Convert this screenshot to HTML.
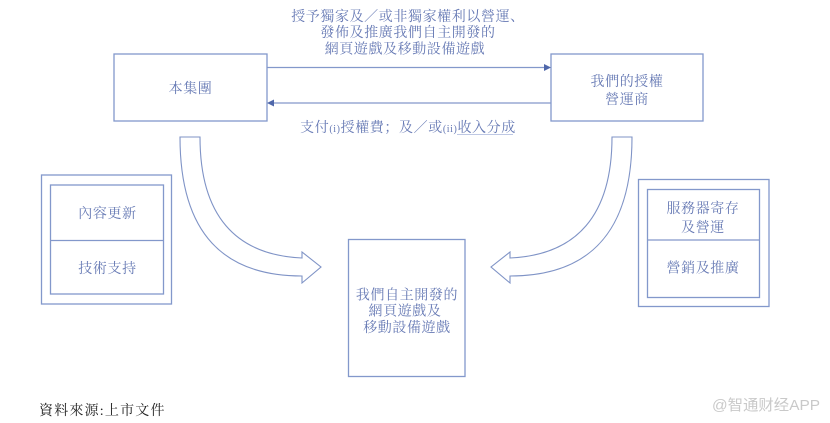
<!DOCTYPE html>
<html>
<head>
<meta charset="utf-8">
<style>
  html,body{margin:0;padding:0;background:#fff;}
  body{width:830px;height:423px;overflow:hidden;}
  svg{display:block;}
  .t{font-family:"Liberation Serif","Noto Serif CJK SC","Noto Serif CJK TC",serif;font-size:14px;fill:#6679b4;letter-spacing:0.6px;}
  .src{font-family:"Liberation Serif","Noto Serif CJK SC",serif;font-size:14px;fill:#222;letter-spacing:1.2px;}
  .wm{font-family:"Liberation Sans","Noto Sans CJK SC",sans-serif;font-size:15px;fill:#c9c9c9;}
</style>
</head>
<body>
<svg width="830" height="423" viewBox="0 0 830 423" xmlns="http://www.w3.org/2000/svg">
  <g fill="none" stroke="#8398cb" stroke-width="1.3">
    <rect x="114" y="54" width="153" height="67"/>
    <rect x="551" y="54" width="152" height="67"/>
    <rect x="348.5" y="239.5" width="116.5" height="137"/>
    <rect x="41.5" y="175" width="130" height="129"/>
    <rect x="50.5" y="185" width="113" height="109"/>
    <line x1="50.5" y1="240.5" x2="163.5" y2="240.5"/>
    <rect x="638.5" y="179.5" width="130.5" height="127"/>
    <rect x="647.5" y="189.5" width="112" height="108"/>
    <line x1="647.5" y1="240" x2="759.5" y2="240"/>
    <line x1="267" y1="67.5" x2="546" y2="67.5"/>
    <line x1="272" y1="103" x2="551" y2="103"/>
  </g>
  <polygon points="551,67.5 544,64 544,71" fill="#4f67aa"/>
  <polygon points="267,103 274,99.5 274,106.5" fill="#4f67aa"/>

  <g fill="#fff" stroke="#7f93c6" stroke-width="1.1" stroke-linejoin="miter">
    <path d="M180,137 L200,137 C200,215 235,255 302,258 L302,252 L321,267 L302,283 L302,276 C225,276 180,235 180,137 Z"/>
    <path d="M632,137 L612,137 C612,215 577,255 510,258 L510,252 L491,267 L510,283 L510,276 C587,276 632,235 632,137 Z"/>
  </g>

  <text class="t" x="408" y="21" text-anchor="middle">授予獨家及／或非獨家權利以營運、</text>
  <text class="t" x="408" y="37" text-anchor="middle">發佈及推廣我們自主開發的</text>
  <text class="t" x="405" y="53.5" text-anchor="middle">網頁遊戲及移動設備遊戲</text>

  <text class="t" x="408" y="132" text-anchor="middle">支付<tspan font-size="10">(i)</tspan>授權費；及／或<tspan font-size="10">(ii)</tspan>收入分成</text>
  <line x1="457" y1="134.5" x2="513" y2="134.5" stroke="#a9b6db" stroke-width="0.8"/>

  <text class="t" x="190.5" y="93" text-anchor="middle">本集團</text>
  <text class="t" x="627" y="86" text-anchor="middle">我們的授權</text>
  <text class="t" x="627" y="104" text-anchor="middle">營運商</text>

  <text class="t" x="407" y="299.5" text-anchor="middle">我們自主開發的</text>
  <text class="t" x="405" y="315.5" text-anchor="middle">網頁遊戲及</text>
  <text class="t" x="407" y="332" text-anchor="middle">移動設備遊戲</text>

  <text class="t" x="107.5" y="218" text-anchor="middle">內容更新</text>
  <text class="t" x="107.5" y="273" text-anchor="middle">技術支持</text>

  <text class="t" x="703" y="213" text-anchor="middle">服務器寄存</text>
  <text class="t" x="703" y="232" text-anchor="middle">及營運</text>
  <text class="t" x="703" y="272.5" text-anchor="middle">營銷及推廣</text>

  <text class="src" x="39" y="415">資料來源:上市文件</text>
  <text class="wm" x="712" y="410" textLength="108" lengthAdjust="spacingAndGlyphs">@智通财经APP</text>
</svg>
</body>
</html>
